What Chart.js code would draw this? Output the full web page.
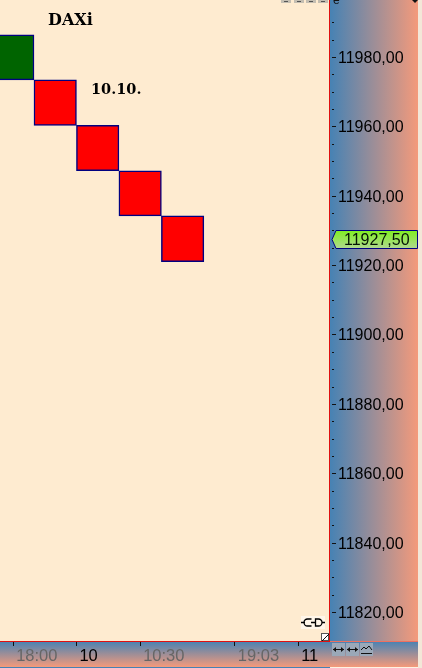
<!DOCTYPE html>
<html>
<head>
<meta charset="utf-8">
<style>
html, body { margin: 0; padding: 0; background: #fdf3e3; overflow: hidden; }
#wrap { width: 422px; height: 668px; position: relative; }
</style>
<script src="https://cdn.jsdelivr.net/npm/chart.js@4"></script>
</head>
<body>
<div id="wrap"><canvas id="chart" width="422" height="668"></canvas></div>
<script>
// renko bricks, oldest first
const brickIndex = [0, 1, 2, 3, 4];
const brickTop = [11986.4, 11973.4, 11960.3, 11947.2, 11934.2];
const brickBottom = [11973.4, 11960.3, 11947.2, 11934.2, 11921.0];
const brickColors = ["#006400", "#ff0000", "#ff0000", "#ff0000", "#ff0000"];

const lastPrice = 11927.5;
const lastPriceLabel = "11927,50";

const xTickValues = [0.01, 1.5, 3.0, 5.23, 6.72];
const xTickLabels = ["18:00", "10", "10:30", "19:03", "11"];
const xTickIsDate = [false, true, false, false, true];

const title = "DAXi";
const dateNote = "10.10.";

const BLUE = "#4682b4";
const SALMON = "#f49a7b";
const RED = "#e01010";

const paper = "#feebd0";

function gradient(ctx, x0, y0, x1, y1) {
    const g = ctx.createLinearGradient(x0, y0, x1, y1);
    g.addColorStop(0, BLUE);
    g.addColorStop(1, SALMON);
    return g;
}

// panels behind the axes
const panels = {
    id: "panels",
    beforeDraw(chart) {
        const { ctx, chartArea: a } = chart;
        ctx.save();
        ctx.fillStyle = paper;
        ctx.fillRect(0, 0, a.right, a.bottom);
        ctx.fillStyle = gradient(ctx, a.right, 0, 418, 0);
        ctx.fillRect(a.right, 0, 88, 642);
        ctx.fillStyle = gradient(ctx, 0, a.bottom, 0, 667);
        ctx.fillRect(0, a.bottom, 418, 26);
        ctx.fillStyle = BLUE;
        ctx.fillRect(0, 667, 330, 1);
        ctx.fillStyle = "#f3e7d8";
        ctx.fillRect(418, 0, 4, 668);
        ctx.restore();
    }
};

function smallButton(ctx, x) {
    ctx.fillStyle = "#9aa8b8";
    ctx.fillRect(x, 643, 13, 13);
    ctx.strokeStyle = "#111";
    ctx.lineWidth = 1;
    ctx.beginPath();
    ctx.moveTo(x + 1, 649.5);
    ctx.lineTo(x + 12, 649.5);
    ctx.stroke();
}

// axis ticks, price tag, notes and the little widgets
const overlay = {
    id: "overlay",
    afterDraw(chart) {
        const { ctx, scales } = chart;
        ctx.save();

        // y ticks: every 5 short, every 20 long
        ctx.strokeStyle = "#111";
        ctx.lineWidth = 1;
        scales.y.ticks.filter(t => t.value % 5 === 0).forEach(t => {
            const y = Math.round(scales.y.getPixelForValue(t.value)) + 0.5;
            ctx.beginPath();
            ctx.moveTo(332, y);
            ctx.lineTo(t.value % 20 === 0 ? 336 : 334, y);
            ctx.stroke();
        });

        // frame lines
        ctx.fillStyle = RED;
        ctx.fillRect(329, 0, 1, 642);
        ctx.fillRect(0, 641, 330, 1);
        ctx.fillStyle = "#ee7060";
        ctx.fillRect(330, 641, 88, 1);

        // notes
        ctx.fillStyle = "#000";
        ctx.textBaseline = "alphabetic";
        ctx.textAlign = "left";
        ctx.font = "bold 16px 'DejaVu Serif'";
        ctx.fillText(title, 48, 25);
        ctx.font = "bold 14.5px 'DejaVu Serif'";
        ctx.fillText(dateNote, 91, 94);

        // last price tag
        const py = Math.round(scales.y.getPixelForValue(lastPrice)) + 0.5;
        const tag = ctx.createLinearGradient(0, py - 9, 0, py + 9);
        tag.addColorStop(0, "#80f020");
        tag.addColorStop(1, "#b0d890");
        ctx.fillStyle = tag;
        ctx.strokeStyle = "#000080";
        ctx.beginPath();
        ctx.moveTo(332, py);
        ctx.lineTo(336, py - 9);
        ctx.lineTo(417.5, py - 9);
        ctx.lineTo(417.5, py + 9);
        ctx.lineTo(336, py + 9);
        ctx.closePath();
        ctx.fill();
        ctx.stroke();
        ctx.fillStyle = "#051505";
        ctx.font = "16px 'Liberation Sans'";
        ctx.textBaseline = "middle";
        ctx.fillText(lastPriceLabel, 344, py + 1);

        // toolbar stubs along the top
        [281, 294, 306, 318].forEach(x => {
            ctx.fillStyle = "#c4beb2";
            ctx.fillRect(x, 0, 10, 3);
            ctx.fillStyle = "#555";
            ctx.fillRect(x + 3, 1, 4, 1);
        });
        ctx.fillStyle = "#111";
        ctx.font = "12px 'Liberation Sans'";
        ctx.textBaseline = "alphabetic";
        ctx.fillText("e", 333, 4);
        ctx.beginPath();
        ctx.moveTo(412, 0);
        ctx.lineTo(418, 0);
        ctx.lineTo(415, 3);
        ctx.closePath();
        ctx.fill();

        // plug icon
        ctx.fillStyle = "#fff6ea";
        ctx.fillRect(301, 616, 24, 13);
        ctx.strokeStyle = "#000";
        ctx.lineWidth = 1.3;
        ctx.beginPath();
        ctx.moveTo(301, 622.5); ctx.lineTo(305, 622.5);
        ctx.moveTo(311.5, 619); ctx.lineTo(307.5, 619);
        ctx.arc(307.5, 622.5, 3.5, -Math.PI / 2, Math.PI / 2, true);
        ctx.lineTo(311.5, 626);
        ctx.moveTo(311, 622.5); ctx.lineTo(315, 622.5);
        ctx.moveTo(315.5, 619); ctx.lineTo(318.5, 619);
        ctx.arc(318.5, 622.5, 3.5, -Math.PI / 2, Math.PI / 2);
        ctx.lineTo(315.5, 626); ctx.closePath();
        ctx.moveTo(322, 622.5); ctx.lineTo(325, 622.5);
        ctx.stroke();
        ctx.lineWidth = 1;

        // resize corner
        ctx.fillStyle = "#fff";
        ctx.fillRect(321, 633, 8, 8);
        ctx.strokeStyle = "#555";
        ctx.strokeRect(321.5, 633.5, 7, 7);
        ctx.strokeStyle = "#111";
        ctx.beginPath();
        ctx.moveTo(322, 641);
        ctx.lineTo(329, 634);
        ctx.stroke();

        // range buttons under the price axis
        smallButton(ctx, 332);
        smallButton(ctx, 346);
        ctx.fillStyle = "#9aa8b8";
        ctx.fillRect(360, 643, 13, 13);
        ctx.strokeStyle = "#111";
        ctx.beginPath();
        ctx.moveTo(361, 650); ctx.lineTo(364, 647); ctx.lineTo(366, 649); ctx.lineTo(369, 646); ctx.lineTo(372, 650);
        ctx.moveTo(361, 653.5); ctx.lineTo(372, 653.5);
        ctx.stroke();
        ctx.fillStyle = "#111";
        [332, 346].forEach(x => {
            ctx.beginPath();
            ctx.moveTo(x + 1, 649.5); ctx.lineTo(x + 4, 647); ctx.lineTo(x + 4, 652); ctx.closePath();
            ctx.moveTo(x + 12, 649.5); ctx.lineTo(x + 9, 647); ctx.lineTo(x + 9, 652); ctx.closePath();
            ctx.fill();
        });

        ctx.restore();
    }
};

new Chart(document.getElementById("chart"), {
    type: "bar",
    data: {
        datasets: [{
            data: brickIndex.map((x, i) => ({ x, y: [brickBottom[i], brickTop[i]] })),
            backgroundColor: brickColors,
            borderColor: "#000080",
            borderWidth: 1.5,
            borderSkipped: false,
            barPercentage: 1,
            categoryPercentage: 1
        }]
    },
    options: {
        responsive: false,
        animation: false,
        devicePixelRatio: 1,
        layout: { padding: 0 },
        plugins: { legend: { display: false }, tooltip: { enabled: false } },
        scales: {
            x: {
                type: "linear",
                offset: false,
                min: -0.3,
                max: 7.47,
                afterFit(s) { s.height = 27; s.paddingLeft = 0; s.paddingRight = 0; },
                afterBuildTicks(s) { s.ticks = xTickValues.map(value => ({ value })); },
                border: { display: false },
                grid: { drawOnChartArea: false, tickColor: "#111", tickLength: 5, offset: false },
                ticks: {
                    autoSkip: false,
                    maxRotation: 0,
                    align: "start",
                    labelOffset: 3,
                    padding: 1,
                    color: c => xTickIsDate[c.index] ? "#000" : "#666",
                    font: { family: "'Liberation Sans'", size: 16.5 },
                    callback: (v, i) => xTickLabels[i]
                }
            },
            y: {
                position: "right",
                min: 11811.64,
                max: 11996.43,
                afterFit(s) { s.width = 92; s.paddingTop = 0; s.paddingBottom = 0; },
                border: { display: false },
                grid: { drawOnChartArea: false, drawTicks: false },
                ticks: {
                    stepSize: 5,
                    autoSkip: false,
                    padding: 8,
                    labelOffset: 1.5,
                    color: "#000",
                    font: { family: "'Liberation Sans'", size: 16 },
                    callback: v => v % 20 === 0 ? v.toFixed(2).replace(".", ",") : ""
                }
            }
        }
    },
    plugins: [panels, overlay]
});
</script>
</body>
</html>
